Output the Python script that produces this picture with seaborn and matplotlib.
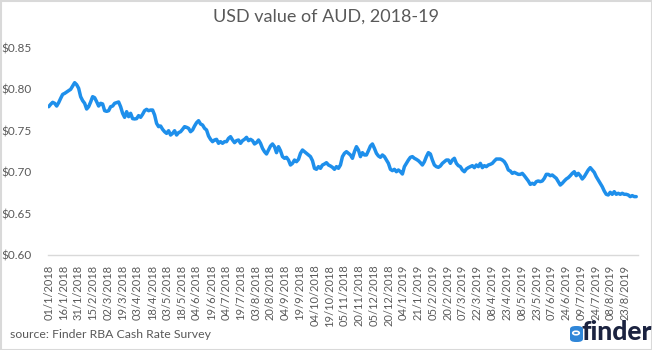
import numpy as np
import pandas as pd
import matplotlib
matplotlib.use("Agg")
import matplotlib.pyplot as plt
from matplotlib.patches import Rectangle, Circle, FancyBboxPatch
import seaborn as sns

# AUD priced in USD, sampled about every 1.5 trading days from 1 Jan 2018
aud_usd = [
    0.7791, 0.7820, 0.7844, 0.7832, 0.7799, 0.7840, 0.7892, 0.7940, 0.7952, 0.7969,
    0.7985, 0.8001, 0.8041, 0.8081, 0.8057, 0.8013, 0.7912, 0.7864, 0.7832, 0.7763,
    0.7791, 0.7848, 0.7912, 0.7900, 0.7852, 0.7799, 0.7832, 0.7824, 0.7743, 0.7735,
    0.7743, 0.7791, 0.7799, 0.7832, 0.7840, 0.7848, 0.7791, 0.7711, 0.7663, 0.7731,
    0.7671, 0.7711, 0.7647, 0.7643, 0.7647, 0.7683, 0.7663, 0.7699, 0.7743, 0.7759,
    0.7743, 0.7751, 0.7751, 0.7691, 0.7590, 0.7550, 0.7558, 0.7518, 0.7489, 0.7469,
    0.7501, 0.7449, 0.7469, 0.7501, 0.7449, 0.7478, 0.7489, 0.7518, 0.7550, 0.7542,
    0.7530, 0.7489, 0.7510, 0.7558, 0.7598, 0.7622, 0.7582, 0.7570, 0.7530, 0.7510,
    0.7437, 0.7397, 0.7369, 0.7389, 0.7397, 0.7349, 0.7369, 0.7349, 0.7369, 0.7369,
    0.7409, 0.7429, 0.7389, 0.7357, 0.7381, 0.7389, 0.7349, 0.7381, 0.7397, 0.7421,
    0.7381, 0.7397, 0.7381, 0.7341, 0.7357, 0.7389, 0.7349, 0.7288, 0.7248, 0.7220,
    0.7268, 0.7316, 0.7341, 0.7308, 0.7236, 0.7308, 0.7260, 0.7188, 0.7168, 0.7180,
    0.7147, 0.7087, 0.7107, 0.7147, 0.7127, 0.7155, 0.7228, 0.7268, 0.7248, 0.7228,
    0.7208, 0.7188, 0.7139, 0.7047, 0.7035, 0.7067, 0.7047, 0.7087, 0.7099, 0.7115,
    0.7087, 0.7075, 0.7059, 0.7035, 0.7067, 0.7047, 0.7087, 0.7188, 0.7228, 0.7248,
    0.7228, 0.7208, 0.7168, 0.7248, 0.7308, 0.7268, 0.7188, 0.7236, 0.7208, 0.7208,
    0.7260, 0.7316, 0.7341, 0.7288, 0.7228, 0.7196, 0.7180, 0.7208, 0.7188, 0.7147,
    0.7107, 0.7035, 0.7019, 0.7035, 0.7006, 0.7027, 0.7006, 0.6978, 0.7067, 0.7107,
    0.7147, 0.7180, 0.7188, 0.7168, 0.7155, 0.7139, 0.7115, 0.7087, 0.7127, 0.7188,
    0.7236, 0.7220, 0.7147, 0.7087, 0.7067, 0.7059, 0.7075, 0.7107, 0.7127, 0.7147,
    0.7147, 0.7107, 0.7147, 0.7168, 0.7107, 0.7079, 0.7067, 0.7027, 0.7006, 0.7039,
    0.7055, 0.7067, 0.7079, 0.7055, 0.7087, 0.7067, 0.7107, 0.7055, 0.7079, 0.7067,
    0.7087, 0.7095, 0.7107, 0.7135, 0.7159, 0.7159, 0.7159, 0.7147, 0.7127, 0.7087,
    0.7027, 0.7014, 0.6986, 0.6998, 0.6986, 0.6974, 0.6974, 0.6986, 0.6958, 0.6926,
    0.6894, 0.6853, 0.6866, 0.6853, 0.6886, 0.6894, 0.6886, 0.6894, 0.6926, 0.6974,
    0.6974, 0.6958, 0.6966, 0.6946, 0.6926, 0.6886, 0.6845, 0.6866, 0.6894, 0.6918,
    0.6934, 0.6958, 0.6986, 0.7006, 0.6958, 0.6986, 0.6958, 0.6918, 0.6946, 0.6986,
    0.7027, 0.7055, 0.7027, 0.6998, 0.6946, 0.6906, 0.6866, 0.6825, 0.6773, 0.6733,
    0.6725, 0.6757, 0.6733, 0.6765, 0.6733, 0.6745, 0.6733, 0.6745, 0.6733, 0.6733,
    0.6725, 0.6705, 0.6717, 0.6705, 0.6705,
]

# category labels, one every 11 trading days
date_labels = [
    "01/1/2018", "16/1/2018", "31/1/2018", "15/2/2018", "02/3/2018", "19/3/2018",
    "03/4/2018", "18/4/2018", "03/5/2018", "18/5/2018", "04/6/2018", "19/6/2018",
    "04/7/2018", "19/7/2018", "03/8/2018", "20/8/2018", "04/9/2018", "19/9/2018",
    "04/10/2018", "19/10/2018", "05/11/2018", "20/11/2018", "05/12/2018", "20/12/2018",
    "04/1/2019", "21/1/2019", "05/2/2019", "20/2/2019", "07/3/2019", "22/3/2019",
    "08/4/2019", "23/4/2019", "08/5/2019", "23/5/2019", "07/6/2019", "24/6/2019",
    "09/7/2019", "24/7/2019", "08/8/2019", "23/8/2019",
]
y_ticks = [0.60, 0.65, 0.70, 0.75, 0.80, 0.85]

TRADING_DAYS_PER_SAMPLE = 1.487
LABEL_EVERY = 11

df = pd.DataFrame({
    "day": np.arange(len(aud_usd)) * TRADING_DAYS_PER_SAMPLE,
    "rate": aud_usd,
})

sns.set_style("white")
plt.rcParams["font.family"] = ["Lato", "DejaVu Sans"]

GREY = "#595959"
fig = plt.figure(figsize=(6.52, 3.5), dpi=100)
ax = fig.add_axes([48 / 652, 1 - 255 / 350, 590 / 652, 207 / 350])

sns.lineplot(data=df, x="day", y="rate", ax=ax, color="#1E8FEB", linewidth=2.5)

ax.set_xlim(-0.5, 438.5)
ax.set_ylim(0.60, 0.85)
ax.set_yticks(y_ticks)
ax.set_yticklabels([f"${v:.2f}" for v in y_ticks], color=GREY, fontsize=8.5)
ax.set_xticks(np.arange(len(date_labels)) * LABEL_EVERY)
ax.set_xticklabels(date_labels, rotation=90, color=GREY, fontsize=8)
ax.tick_params(axis="both", length=0)
ax.tick_params(axis="x", pad=7)
ax.tick_params(axis="y", pad=12)
ax.set_xlabel("")
ax.set_ylabel("")
for side in ("top", "right", "left"):
    ax.spines[side].set_visible(False)
ax.spines["bottom"].set_color("#d9d9d9")
ax.spines["bottom"].set_linewidth(1)

fig.text(0.5, 1 - 17 / 350, "USD value of AUD, 2018-19", ha="center", va="center",
         color=GREY, fontsize=13)
fig.text(10 / 652, 1 - 334 / 350, "source: Finder RBA Cash Rate Survey", ha="left",
         va="center", color=GREY, fontsize=8.8)

# finder logo
fig.text(582 / 652, 1 - 332 / 350, "finder", ha="left", va="center",
         color="#1b2340", fontsize=19, fontweight="black")
icon = FancyBboxPatch((570 / 652, 1 - 342 / 350), 13 / 652, 16 / 350,
                      boxstyle="round,pad=0,rounding_size=0.009",
                      transform=fig.transFigure, facecolor="#2F86D8", edgecolor="none")
fig.patches.append(icon)
fig.patches.append(Circle((576 / 652, 1 - 333 / 350), 0.005, transform=fig.transFigure,
                          facecolor="none", edgecolor="white", linewidth=1.2))

# outer frame
fig.patches.append(Rectangle((0.5 / 652, 0.5 / 350), 651 / 652, 349 / 350,
                             transform=fig.transFigure, facecolor="none",
                             edgecolor="#d9d9d9", linewidth=1.5))

fig.savefig("out.png", dpi=100)
